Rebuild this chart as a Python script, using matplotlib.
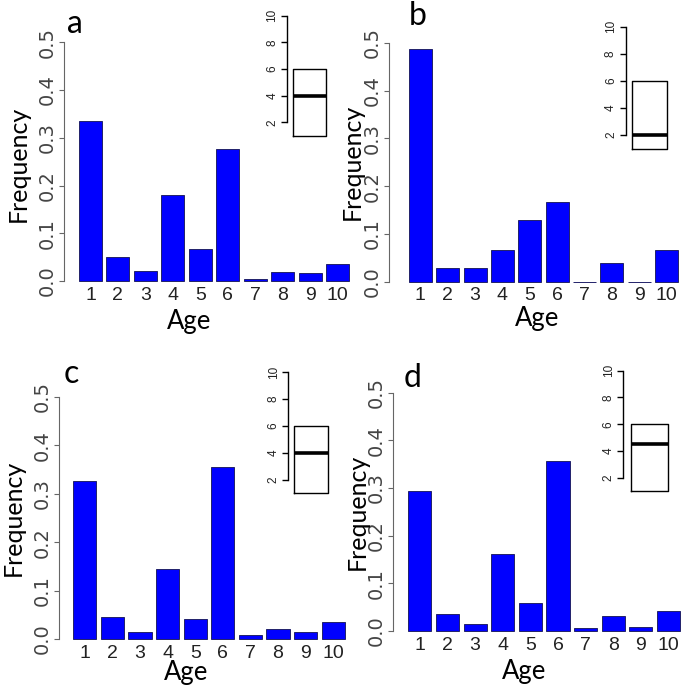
import matplotlib
matplotlib.use('Agg')
import matplotlib.pyplot as plt
from matplotlib import font_manager

# ---------------- data ----------------
ages = [1, 2, 3, 4, 5, 6, 7, 8, 9, 10]
freq_a = [0.336, 0.050, 0.021, 0.181, 0.066, 0.277, 0.004, 0.018, 0.016, 0.036]
freq_b = [0.486, 0.028, 0.028, 0.066, 0.129, 0.167, 0.000, 0.039, 0.000, 0.066]
freq_c = [0.327, 0.045, 0.015, 0.144, 0.042, 0.355, 0.008, 0.020, 0.014, 0.035]
freq_d = [0.294, 0.036, 0.015, 0.161, 0.058, 0.357, 0.006, 0.032, 0.008, 0.043]
box_low = [1, 1, 1, 1]
box_med = [4, 2, 4, 4.5]
box_high = [6, 6, 6, 6]
panel_letters = ['a', 'b', 'c', 'd']
y_ticks = [0.0, 0.1, 0.2, 0.3, 0.4, 0.5]
y_tick_labels = ['0.0', '0.1', '0.2', '0.3', '0.4', '0.5']
inset_ticks = [2, 4, 6, 8, 10]
x_label = 'Age'
y_label = 'Frequency'

freqs = [freq_a, freq_b, freq_c, freq_d]

# ---------------- layout (pixels) ----------------
W, H = 685, 690
fig = plt.figure(figsize=(W / 100, H / 100), dpi=100)

names = {f.name for f in font_manager.fontManager.ttflist}
if 'Liberation Sans Narrow' in names:
    xtick_family, xtick_size = ['Liberation Sans Narrow', 'Liberation Sans'], 16
else:
    xtick_family, xtick_size = ['Liberation Sans'], 14
label_family = ['Lato', 'DejaVu Sans']

# main axes: axis_x, y0 (value 0), y5 (value 0.5), bar1_left, bar10_right
main_layout = [
    (64.0, 281.0, 42.3, 79.0, 349.0),
    (389.3, 281.7, 42.7, 409.0, 678.0),
    (59.0, 639.0, 396.7, 73.3, 344.7),
    (393.3, 631.0, 392.7, 408.3, 680.0),
]
# inset: axis_x, y10, y2, box_left, box_right
inset_layout = [
    (287.0, 15.7, 122.3, 293.0, 326.0),
    (625.7, 26.7, 135.0, 631.7, 667.0),
    (288.3, 372.3, 480.0, 294.3, 327.7),
    (623.3, 370.7, 477.7, 631.0, 668.3),
]
# Frequency label centre, Age label centre, letter (left, baseline)
freq_pos = [(18.5, 163.5), (352, 161.5), (13.5, 517.5), (357.5, 511.5)]
age_pos = [(189, 322), (537.5, 319), (186, 672.5), (524.5, 672)]
letter_pos = [(67, 33), (409, 25), (64, 383.3), (404, 386.7)]

bar_w = 0.836


def fx(x):
    return x / W


def fy(y):
    return 1 - y / H


for k in range(4):
    axis_x, y0, y5, b1l, b10r = main_layout[k]
    pitch = (b10r - b1l) / (9 + bar_w)
    c1 = b1l + bar_w / 2 * pitch
    right = b10r + 4
    ax = fig.add_axes([fx(axis_x), fy(y0), (right - axis_x) / W, (y0 - y5) / H])
    bars = ax.bar(ages, freqs[k], width=bar_w, color='#0000ff', edgecolor='#22226a',
                  linewidth=0.7, zorder=2)
    for b in bars:
        b.set_clip_on(False)
    ax.set_xlim(1 - (c1 - axis_x) / pitch, 1 + (right - c1) / pitch)
    ax.set_ylim(0, 0.5)
    for s in ['top', 'right', 'bottom']:
        ax.spines[s].set_visible(False)
    ax.spines['left'].set_color('#666666')
    ax.spines['left'].set_linewidth(0.8)
    ax.patch.set_alpha(0)
    ax.set_yticks(y_ticks)
    ax.set_yticklabels(y_tick_labels, rotation=90, va='center',
                       family='DejaVu Sans', fontsize=14, color='#444444')
    ax.tick_params(axis='y', length=3.3, width=0.8, color='#666666', pad=2)
    ax.set_xticks(ages)
    ax.set_xticklabels([str(a) for a in ages], family=xtick_family,
                       fontsize=xtick_size, color='#222222')
    ax.tick_params(axis='x', length=0, pad=4)

    # inset boxplot
    ix, y10, y2, bl, br = inset_layout[k]
    per = (y2 - y10) / 8
    ybot = y2 + per * 1.6  # value 0.4
    iright = br + 6
    iax = fig.add_axes([fx(ix), fy(ybot), (iright - ix) / W, (ybot - y10) / H])
    iax.set_xlim(0, iright - ix)
    iax.set_ylim(0.4, 10)
    stats = [{'med': box_med[k], 'q1': box_low[k], 'q3': box_high[k],
              'whislo': box_low[k], 'whishi': box_high[k]}]
    iax.bxp(stats, positions=[(bl + br) / 2 - ix], widths=[br - bl],
            showcaps=False, showfliers=False, patch_artist=False,
            boxprops=dict(color='black', linewidth=1.0),
            whiskerprops=dict(color='black', linewidth=1.0),
            medianprops=dict(color='black', linewidth=2.6, solid_capstyle='butt'))
    iax.set_xlim(0, iright - ix)
    iax.set_xticks([])
    for s in ['top', 'right', 'bottom']:
        iax.spines[s].set_visible(False)
    iax.spines['left'].set_bounds(2, 10)
    iax.spines['left'].set_linewidth(1.0)
    iax.set_yticks(inset_ticks)
    iax.set_yticklabels([str(t) for t in inset_ticks], rotation=90, va='center',
                        family='Liberation Sans', fontsize=8.5, color='#222222')
    iax.tick_params(axis='y', length=4.3, width=1.0, pad=2)
    iax.patch.set_alpha(0)

    # labels
    fig.text(fx(freq_pos[k][0]), fy(freq_pos[k][1]), y_label, rotation=90,
             ha='center', va='center', family=label_family, fontsize=18)
    fig.text(fx(age_pos[k][0]), fy(age_pos[k][1]), x_label,
             ha='center', va='center', family=label_family, fontsize=18.5)
    fig.text(fx(letter_pos[k][0]), fy(letter_pos[k][1]), panel_letters[k],
             ha='left', va='baseline', family=label_family, fontsize=23)

fig.savefig('out.png', dpi=100)
